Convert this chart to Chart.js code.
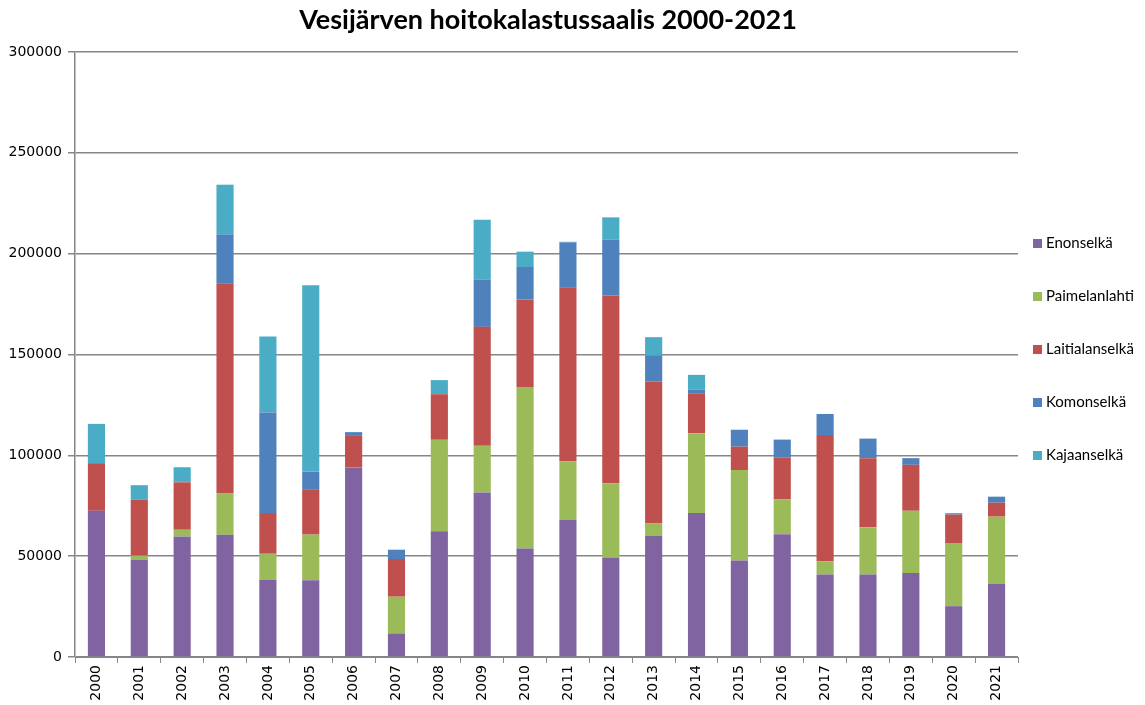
<!DOCTYPE html>
<html>
<head>
<meta charset="utf-8">
<script src="https://cdn.jsdelivr.net/npm/chart.js@4.4.0/dist/chart.umd.min.js"></script>
<style>
  html,body{margin:0;padding:0;background:#fff;}
  #wrap{position:relative;width:1145px;height:705px;}
  #title{position:absolute;left:0;top:2px;width:1096px;text-align:center;font:bold 27px Lato,"Open Sans",sans-serif;color:#000;}
  #legend{position:absolute;left:1033px;top:233px;font:15px Lato,"Open Sans",sans-serif;color:#000;}
  #legend div{height:53px;line-height:18px;white-space:nowrap;}
  #legend span{display:inline-block;width:9px;height:9px;margin-right:4px;vertical-align:0px;}
</style>
</head>
<body>
<div id="wrap">
  <div id="title">Vesijärven hoitokalastussaalis 2000-2021</div>
  <canvas id="chart" width="1145" height="705"></canvas>
  <div id="legend"></div>
</div>
<script>
const years=["2000","2001","2002","2003","2004","2005","2006","2007","2008","2009","2010","2011","2012","2013","2014","2015","2016","2017","2018","2019","2020","2021"];
const enonselka=[72500,48200,59800,60600,38300,38000,94000,11700,62400,81600,53800,67900,49400,60100,71400,47800,60900,40900,40900,41700,25200,36200];
const paimelanlahti=[0,2100,3300,20700,12900,22700,0,18200,45300,23100,80100,29200,36800,6100,39600,44900,17200,6600,23400,30800,31300,33400];
const laitialanselka=[23600,27600,23500,104000,20200,22500,16000,18700,22600,59000,43300,86200,93000,70400,19500,11600,20700,62600,34300,22800,14100,6900];
const komonselka=[0,0,500,24300,49800,8600,1500,4600,0,23400,16200,22300,27700,13000,2000,8400,9000,10400,9700,3300,700,3000];
const kajaanselka=[19500,7300,7000,24600,37700,92500,0,0,7000,29700,7600,300,11100,9000,7400,0,0,0,0,0,0,0];

const series=[
  {label:"Enonselkä",data:enonselka,color:"#8064A2"},
  {label:"Paimelanlahti",data:paimelanlahti,color:"#9BBB59"},
  {label:"Laitialanselkä",data:laitialanselka,color:"#C0504D"},
  {label:"Komonselkä",data:komonselka,color:"#4F81BD"},
  {label:"Kajaanselkä",data:kajaanselka,color:"#4BACC6"}
];

// Legend
const legend=document.getElementById("legend");
series.forEach(s=>{
  const d=document.createElement("div");
  d.innerHTML=`<span style="background:${s.color}"></span>${s.label}`;
  legend.appendChild(d);
});

const gridGray="#868686";
new Chart(document.getElementById("chart"),{
  type:"bar",
  data:{
    labels:years,
    datasets:series.map(s=>({label:s.label,data:s.data,backgroundColor:s.color,borderWidth:0,
      barPercentage:0.4,categoryPercentage:1}))
  },
  options:{
    responsive:false,
    animation:false,
    layout:{padding:{top:52,right:127,left:0,bottom:0}},
    plugins:{legend:{display:false},tooltip:{enabled:false}},
    scales:{
      x:{
        stacked:true,
        grid:{offset:true,drawOnChartArea:false,color:gridGray,tickLength:6},
        border:{color:gridGray,width:1},
        ticks:{minRotation:90,maxRotation:90,color:"#000",padding:2,font:{family:"DejaVu Sans",size:14}},
        afterFit:s=>{s.height=48;}
      },
      y:{
        stacked:true,
        min:0,max:300000,
        grid:{color:gridGray,lineWidth:1.5,tickLength:7},
        border:{color:gridGray,width:1.5},
        ticks:{stepSize:50000,color:"#000",padding:6,font:{family:"DejaVu Sans",size:14},callback:v=>String(v)},
        afterFit:s=>{s.width=75;}
      }
    }
  }
});
</script>
</body>
</html>
